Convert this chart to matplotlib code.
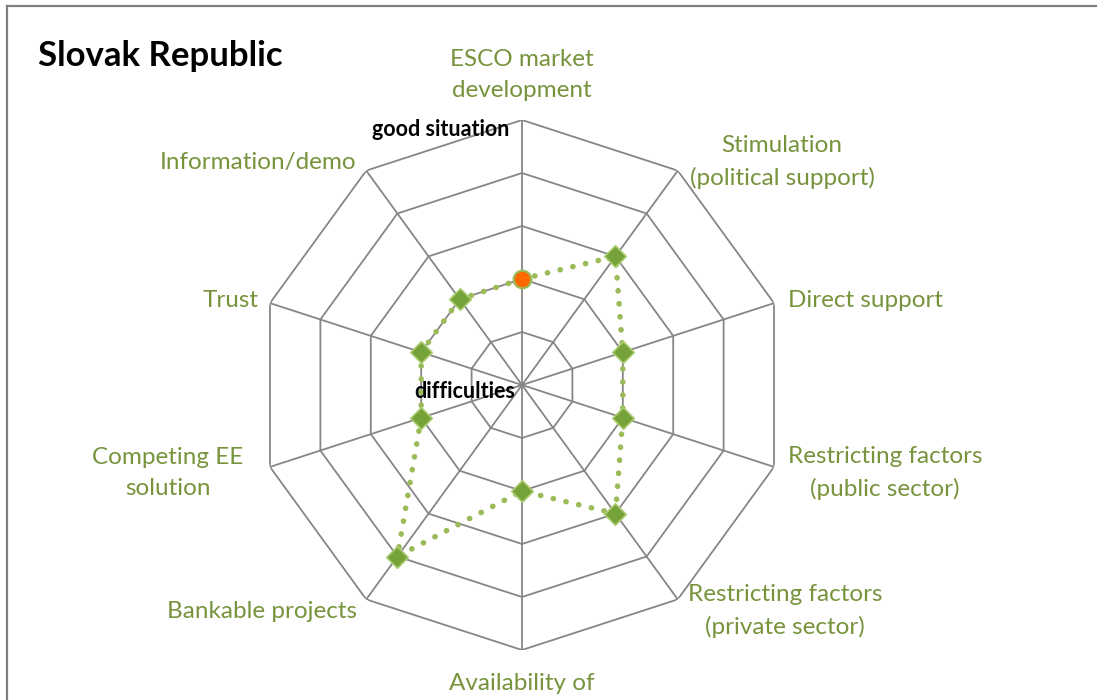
import numpy as np
import matplotlib
matplotlib.use('Agg')
import matplotlib.pyplot as plt
from matplotlib.lines import Line2D

plt.rcParams['font.family'] = ['Lato', 'DejaVu Sans']

# data
categories = ["ESCO market\ndevelopment", "Stimulation\n(political support)", "Direct support",
              "Restricting factors\n(public sector)", "Restricting factors\n(private sector)",
              "Availability of", "Bankable projects", "Competing EE\nsolution", "Trust",
              "Information/demo"]
scores = [2, 3, 2, 2, 3, 2, 4, 2, 2, 2]
levels = [1, 2, 3, 4, 5]
country = "Slovak Republic"

# label anchor points in pixels (centre of each label block)
label_pos = [(522, 75), (782, 162), (865, 301), (885, 473), (785, 611),
             (522, 683), (262, 611), (168, 473), (231, 301), (258, 162)]

W, H = 1097, 700
GRID = '#868686'
LABEL = '#77933C'
LINE = '#9BBB59'


def px(x, y):
    return x / W, 1 - y / H


fig = plt.figure(figsize=(W / 100, H / 100), dpi=100)
fig.patch.set_facecolor('white')

# outer frame of the embedded chart: only top and left edges are in view
x0, y0 = px(7, 6)
fig.add_artist(Line2D([x0, 1.0], [y0, y0], transform=fig.transFigure, color='#808080', lw=1.6))
fig.add_artist(Line2D([x0, x0], [y0, 0.0], transform=fig.transFigure, color='#808080', lw=1.6))

cx, cy, R = 522, 385, 265
ax = fig.add_axes([(cx - R) / W, (H - cy - R) / H, 2 * R / W, 2 * R / H], projection='polar')
ax.set_theta_zero_location('N')
ax.set_theta_direction(-1)
ax.set_ylim(0, levels[-1])
ax.grid(False)
ax.set_xticks([])
ax.set_yticks([])
ax.spines['polar'].set_visible(False)
ax.patch.set_alpha(0)

n = len(categories)
theta = np.arange(n) * 2 * np.pi / n
theta_c = np.append(theta, theta[0])

# decagon grid
for lv in levels:
    ax.plot(theta_c, [lv] * (n + 1), color=GRID, lw=1.3, zorder=1)
for t in theta:
    ax.plot([t, t], [0, levels[-1]], color=GRID, lw=1.3, zorder=1)

# series
vals = np.append(scores, scores[0])
ax.plot(theta_c, vals, color=LINE, lw=4.0, linestyle=(0, (0.05, 2.3)),
        dash_capstyle='round', zorder=3)
ax.scatter(theta[1:], scores[1:], marker='D', s=120, facecolor='#76A23A',
           edgecolor='#A9CB6E', linewidth=1.2, zorder=4)
ax.scatter(theta[:1], scores[:1], marker='o', s=160, facecolor='#FF6A00',
           edgecolor='#9BBB59', linewidth=1.6, zorder=5)

for lab, (x, y) in zip(categories, label_pos):
    fig.text(*px(x, y), lab, color=LABEL, fontsize=17.5, ha='center', va='center',
             linespacing=1.6)

fig.text(*px(38, 56), country, fontsize=25, fontweight='bold', ha='left', va='center')
fig.text(*px(441, 129), "good situation", fontsize=15.5, fontweight='bold', ha='center', va='center')
fig.text(*px(465, 391), "difficulties", fontsize=15.5, fontweight='bold', ha='center', va='center')

fig.savefig('out.png', dpi=100)
